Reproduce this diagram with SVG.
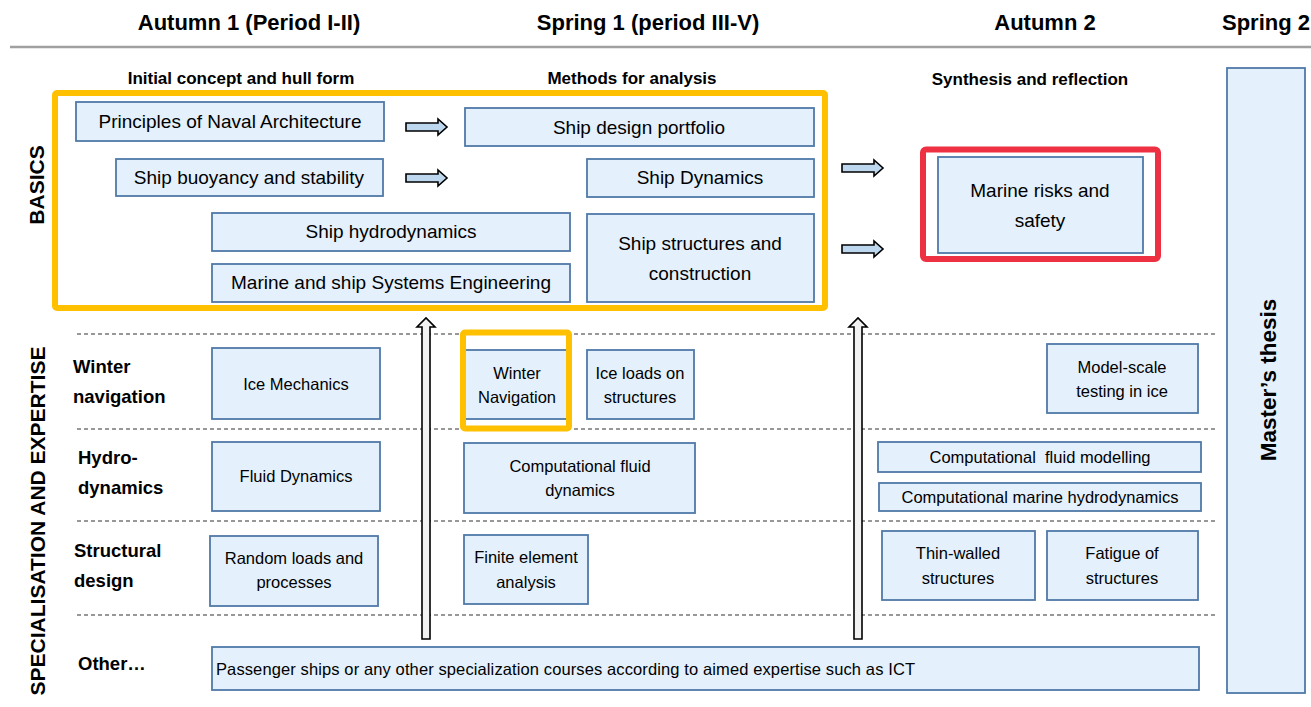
<svg xmlns="http://www.w3.org/2000/svg" width="1311" height="707" viewBox="0 0 1311 707">
  <defs>
    <style>
      text { font-family: "Liberation Sans", Arial, sans-serif; fill: #000; }
      .hdr { font-size: 22px; font-weight: bold; text-anchor: middle; }
      .sub { font-size: 17px; font-weight: bold; text-anchor: middle; }
      .side { font-size: 21px; font-weight: bold; text-anchor: middle; }
      .thesis { font-size: 22.5px; font-weight: bold; text-anchor: middle; }
      .row { font-size: 18.5px; font-weight: bold; }
      .course { fill: #E4F0FC; stroke: #4F79A8; stroke-width: 1.8; }
      .big { font-size: 19px; text-anchor: middle; }
      .sm { font-size: 16.5px; text-anchor: middle; }
      .dash { stroke: #333; stroke-width: 1.2; stroke-dasharray: 4 3; fill: none; }
      .flow { fill: #BDD7EE; stroke: #000; stroke-width: 1.6; stroke-linejoin: miter; }
      .lift { fill: #F2F2F2; stroke: #000; stroke-width: 1.6; }
    </style>
  </defs>

  <!-- column headers -->
  <g id="headers">
    <text class="hdr" x="249" y="30">Autumn 1 (Period I-II)</text>
    <text class="hdr" x="648" y="30">Spring 1 (period III-V)</text>
    <text class="hdr" x="1045" y="30">Autumn 2</text>
    <text class="hdr" x="1266" y="30">Spring 2</text>
    <line x1="10" y1="47" x2="1311" y2="47" stroke="#A0A0A0" stroke-width="2.5"/>
    <text class="sub" x="241" y="84">Initial concept and hull form</text>
    <text class="sub" x="632" y="84">Methods for analysis</text>
    <text class="sub" x="1030" y="85">Synthesis and reflection</text>
  </g>

  <!-- side labels -->
  <g id="side-labels">
    <text class="side" transform="translate(44,185) rotate(-90)">BASICS</text>
    <text class="side" transform="translate(45,521) rotate(-90)">SPECIALISATION AND EXPERTISE</text>
  </g>

  <!-- lane separators -->
  <g id="lanes">
    <line class="dash" x1="77" y1="334" x2="1216" y2="334"/>
    <line class="dash" x1="77" y1="429" x2="1216" y2="429"/>
    <line class="dash" x1="77" y1="521" x2="1216" y2="521"/>
    <line class="dash" x1="77" y1="615" x2="1216" y2="615"/>
  </g>

  <!-- row labels -->
  <g id="row-labels">
    <text class="row" x="73" y="373">Winter</text>
    <text class="row" x="73" y="403">navigation</text>
    <text class="row" x="78" y="464">Hydro-</text>
    <text class="row" x="78" y="494">dynamics</text>
    <text class="row" x="74" y="557">Structural</text>
    <text class="row" x="74" y="587">design</text>
    <text class="row" x="78" y="670">Other…</text>
  </g>

  <!-- basics block -->
  <g id="basics-frame">
    <rect x="55" y="93" width="770" height="215" rx="2" fill="none" stroke="#FFC000" stroke-width="6"/>
  </g>
  <g id="principles">
    <rect class="course" x="76" y="102" width="308" height="39"/>
    <text class="big" x="230" y="128">Principles of Naval Architecture</text>
  </g>
  <g id="buoyancy">
    <rect class="course" x="116" y="159" width="267" height="37"/>
    <text class="big" x="249" y="184">Ship buoyancy and stability</text>
  </g>
  <g id="hydrodynamics">
    <rect class="course" x="212" y="213" width="358" height="38"/>
    <text class="big" x="391" y="238">Ship hydrodynamics</text>
  </g>
  <g id="systems-engineering">
    <rect class="course" x="212" y="264" width="358" height="38"/>
    <text class="big" x="391" y="289">Marine and ship Systems Engineering</text>
  </g>
  <g id="design-portfolio">
    <rect class="course" x="465" y="108" width="349" height="38"/>
    <text class="big" x="639" y="134">Ship design portfolio</text>
  </g>
  <g id="ship-dynamics">
    <rect class="course" x="587" y="159" width="227" height="38"/>
    <text class="big" x="700" y="184">Ship Dynamics</text>
  </g>
  <g id="ship-structures">
    <rect class="course" x="587" y="214" width="227" height="88"/>
    <text class="big" x="700" y="250">Ship structures and</text>
    <text class="big" x="700" y="280">construction</text>
  </g>

  <!-- synthesis -->
  <g id="marine-risks">
    <rect x="923" y="149.5" width="235" height="109.5" rx="3" fill="none" stroke="#EE3142" stroke-width="6"/>
    <rect class="course" x="938" y="157" width="205" height="96"/>
    <text class="big" x="1040" y="197">Marine risks and</text>
    <text class="big" x="1040" y="227">safety</text>
  </g>

  <!-- thesis -->
  <g id="thesis">
    <rect class="course" x="1227" y="68" width="78" height="625"/>
    <text class="thesis" transform="translate(1276,380) rotate(-90)">Master’s thesis</text>
  </g>

  <!-- winter navigation lane -->
  <g id="ice-mechanics">
    <rect class="course" x="212" y="348" width="168" height="71"/>
    <text class="sm" x="296" y="390">Ice Mechanics</text>
  </g>
  <g id="winter-navigation">
    <rect class="course" x="464" y="350" width="103" height="69"/>
    <rect x="463" y="332.5" width="106" height="96" rx="2" fill="none" stroke="#FFC000" stroke-width="6"/>
    <text class="sm" x="517" y="379">Winter</text>
    <text class="sm" x="517" y="403">Navigation</text>
  </g>
  <g id="ice-loads">
    <rect class="course" x="587" y="350" width="107" height="69"/>
    <text class="sm" x="640" y="379">Ice loads on</text>
    <text class="sm" x="640" y="403">structures</text>
  </g>
  <g id="model-scale">
    <rect class="course" x="1047" y="344" width="151" height="69"/>
    <text class="sm" x="1122" y="373">Model-scale</text>
    <text class="sm" x="1122" y="397">testing in ice</text>
  </g>

  <!-- hydrodynamics lane -->
  <g id="fluid-dynamics">
    <rect class="course" x="212" y="442" width="168" height="69"/>
    <text class="sm" x="296" y="482">Fluid Dynamics</text>
  </g>
  <g id="cfd">
    <rect class="course" x="464" y="443" width="231" height="70"/>
    <text class="sm" x="580" y="472">Computational fluid</text>
    <text class="sm" x="580" y="496">dynamics</text>
  </g>
  <g id="cfm">
    <rect class="course" x="878" y="442" width="323" height="30"/>
    <text class="sm" x="1040" y="463" style="white-space:pre">Computational  fluid modelling</text>
  </g>
  <g id="cmh">
    <rect class="course" x="879" y="483" width="322" height="28"/>
    <text class="sm" x="1040" y="503">Computational marine hydrodynamics</text>
  </g>

  <!-- structural design lane -->
  <g id="random-loads">
    <rect class="course" x="210" y="536" width="168" height="70"/>
    <text class="sm" x="294" y="564">Random loads and</text>
    <text class="sm" x="294" y="588">processes</text>
  </g>
  <g id="fea">
    <rect class="course" x="464" y="535" width="124" height="69"/>
    <text class="sm" x="526" y="563">Finite element</text>
    <text class="sm" x="526" y="588">analysis</text>
  </g>
  <g id="thin-walled">
    <rect class="course" x="882" y="531" width="153" height="69"/>
    <text class="sm" x="958" y="559">Thin-walled</text>
    <text class="sm" x="958" y="584">structures</text>
  </g>
  <g id="fatigue">
    <rect class="course" x="1047" y="531" width="151" height="69"/>
    <text class="sm" x="1122" y="559">Fatigue of</text>
    <text class="sm" x="1122" y="584">structures</text>
  </g>

  <!-- other lane -->
  <g id="other-courses">
    <rect class="course" x="212" y="647" width="987" height="43"/>
    <text x="216" y="675" font-size="16.5" textLength="699" lengthAdjust="spacing">Passenger ships or any other specialization courses according to aimed expertise such as ICT</text>
  </g>

  <!-- connectors -->
  <g id="connectors">
    <path class="flow" d="M406 123 H438 V119 L447 127 L438 135 V131 H406 Z"/>
    <path class="flow" d="M406 174 H438 V170 L447 178 L438 186 V182 H406 Z"/>
    <path class="flow" d="M842 164 H874 V160 L883 168 L874 176 V172 H842 Z"/>
    <path class="flow" d="M842 245 H874 V241 L883 249 L874 257 V253 H842 Z"/>
    <path class="lift" d="M422 639 V327 H417 L426 318 L435 327 H430 V639 Z"/>
    <path class="lift" d="M854 639 V327 H849 L858 318 L867 327 H862 V639 Z"/>
  </g>
</svg>
